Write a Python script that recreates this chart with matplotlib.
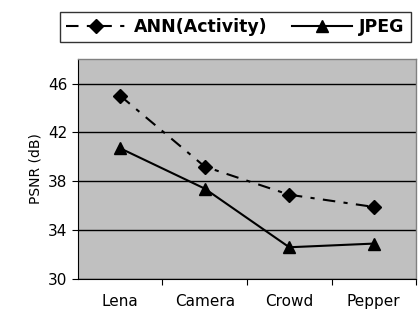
import matplotlib
matplotlib.use("Agg")
import matplotlib.pyplot as plt

categories = ["Lena", "Camera", "Crowd", "Pepper"]
ann_activity = [45.0, 39.2, 36.9, 35.9]
jpeg = [40.7, 37.4, 32.6, 32.9]
yticks = [30, 34, 38, 42, 46]

fig = plt.figure(figsize=(4.19, 3.16), dpi=100)
ax = fig.add_axes([0.186, 0.117, 0.807, 0.696])
ax.set_facecolor("#c0c0c0")

x = range(len(categories))
ax.plot(x, ann_activity, color="black", lw=1.5, dashes=(6, 4, 2, 4),
        marker="D", ms=7, label="ANN(Activity)")
ax.plot(x, jpeg, color="black", lw=1.5, marker="^", ms=9, label="JPEG")

ax.set_xlim(-0.5, 3.5)
ax.set_ylim(30, 48)
ax.set_yticks(yticks)
ax.yaxis.grid(True, color="black", lw=1)
ax.set_axisbelow(True)
ax.set_xticks([0.5, 1.5, 2.5, 3.5])
ax.set_xticklabels([])
ax.set_xticks(list(x), minor=True)
ax.set_xticklabels(categories, minor=True, fontsize=11)
ax.tick_params(axis="x", which="minor", length=0, pad=11)
ax.tick_params(axis="x", which="major", length=4, direction="out")
ax.tick_params(axis="y", labelsize=11, length=4)
ax.set_ylabel("PSNR (dB)", fontsize=10)

for s in ["top", "right"]:
    ax.spines[s].set_color("#808080")
    ax.spines[s].set_linewidth(1)

leg = fig.legend(loc="upper left", bbox_to_anchor=(0.143, 0.962), ncol=2,
                 frameon=True, fancybox=False, edgecolor="black",
                 prop={"weight": "bold", "size": 12.5}, handlelength=3.5,
                 columnspacing=1.4, handletextpad=0.4, borderpad=0.35,
                 borderaxespad=0)
leg.get_frame().set_linewidth(1)

fig.savefig("out.png", dpi=100)
